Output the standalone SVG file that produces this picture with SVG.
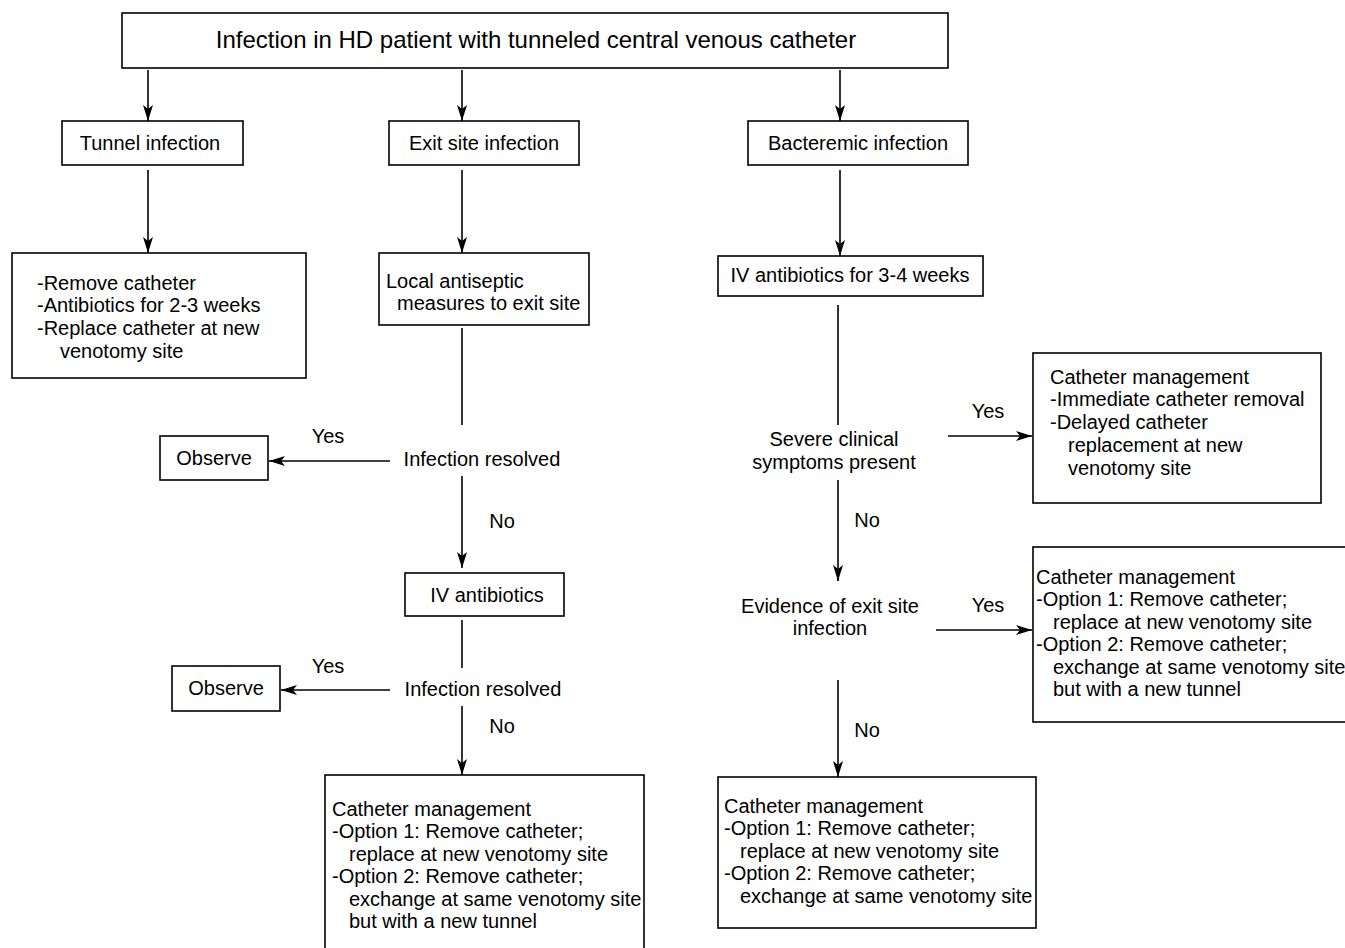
<svg xmlns="http://www.w3.org/2000/svg" width="1345" height="948" viewBox="0 0 1345 948">
<defs>
<marker id="ah" markerWidth="16" markerHeight="12" refX="16" refY="6" orient="auto" markerUnits="userSpaceOnUse">
<path d="M0,1 L16,6 L0,11 L4,6 Z" fill="#000"/>
</marker>
</defs>
<style>
.box{fill:#fff;stroke:#000;stroke-width:1.6}
.t{font-family:"Liberation Sans",Arial,sans-serif;font-size:20px;fill:#000}
.tm{text-anchor:middle}
.ttl{font-size:24px}
.ln{stroke:#000;stroke-width:1.6;fill:none}
.ar{stroke:#000;stroke-width:1.6;fill:none;marker-end:url(#ah)}
</style>
<rect width="1345" height="948" fill="#fff"/>
<g id="connectors">
<line class="ar" x1="148" y1="70" x2="148" y2="121"/>
<line class="ar" x1="462" y1="70" x2="462" y2="121"/>
<line class="ar" x1="840" y1="70" x2="840" y2="121"/>
<line class="ar" x1="148" y1="170" x2="148" y2="253"/>
<line class="ar" x1="462" y1="170" x2="462" y2="253"/>
<line class="ar" x1="840" y1="170" x2="840" y2="256"/>
<line class="ln" x1="462" y1="328" x2="462" y2="425"/>
<line class="ar" x1="390" y1="461" x2="269" y2="461"/>
<line class="ar" x1="462" y1="476" x2="462" y2="568"/>
<line class="ln" x1="462" y1="620" x2="462" y2="668"/>
<line class="ar" x1="390" y1="690" x2="281" y2="690"/>
<line class="ar" x1="462" y1="706" x2="462" y2="775"/>
<line class="ln" x1="838" y1="305" x2="838" y2="425"/>
<line class="ar" x1="948" y1="436" x2="1032" y2="436"/>
<line class="ar" x1="838" y1="480" x2="838" y2="581"/>
<line class="ar" x1="936" y1="630" x2="1032" y2="630"/>
<line class="ar" x1="838" y1="680" x2="838" y2="777"/>
<text class="t" x="328" y="443" text-anchor="middle">Yes</text>
<text class="t" x="502" y="528" text-anchor="middle">No</text>
<text class="t" x="328" y="673" text-anchor="middle">Yes</text>
<text class="t" x="502" y="733" text-anchor="middle">No</text>
<text class="t" x="988" y="418" text-anchor="middle">Yes</text>
<text class="t" x="867" y="527" text-anchor="middle">No</text>
<text class="t" x="988" y="612" text-anchor="middle">Yes</text>
<text class="t" x="867" y="737" text-anchor="middle">No</text>
</g>
<g id="root">
<rect class="box" x="122" y="13" width="826" height="55"/>
<text class="t tm ttl" x="536" y="48">Infection in HD patient with tunneled central venous catheter</text>
</g>
<g id="tunnel">
<rect class="box" x="62" y="121" width="181" height="44"/>
<text class="t tm" x="150" y="150">Tunnel infection</text>
</g>
<g id="exit">
<rect class="box" x="389" y="121" width="190" height="44"/>
<text class="t tm" x="484" y="150">Exit site infection</text>
</g>
<g id="bacteremic">
<rect class="box" x="748" y="121" width="220" height="44"/>
<text class="t tm" x="858" y="150">Bacteremic infection</text>
</g>
<g id="tunnel-mgmt">
<rect class="box" x="12" y="253" width="294" height="125"/>
<text class="t" x="37" y="290">-Remove catheter</text>
<text class="t" x="37" y="312">-Antibiotics for 2-3 weeks</text>
<text class="t" x="37" y="335">-Replace catheter at new</text>
<text class="t" x="60" y="358">venotomy site</text>
</g>
<g id="local">
<rect class="box" x="379" y="253" width="210" height="72"/>
<text class="t" x="386" y="288">Local antiseptic</text>
<text class="t" x="397" y="310">measures to exit site</text>
</g>
<g id="resolved1">
<text class="t tm" x="482" y="466">Infection resolved</text>
</g>
<g id="observe1">
<rect class="box" x="160" y="436" width="108" height="44"/>
<text class="t tm" x="214" y="465">Observe</text>
</g>
<g id="iv">
<rect class="box" x="405" y="573" width="159" height="43"/>
<text class="t tm" x="487" y="602">IV antibiotics</text>
</g>
<g id="resolved2">
<text class="t tm" x="483" y="696">Infection resolved</text>
</g>
<g id="observe2">
<rect class="box" x="172" y="666" width="108" height="45"/>
<text class="t tm" x="226" y="695">Observe</text>
</g>
<g id="exit-mgmt">
<rect class="box" x="325" y="775" width="319" height="180"/>
<text class="t" x="332" y="816">Catheter management</text>
<text class="t" x="332" y="838">-Option 1: Remove catheter;</text>
<text class="t" x="349" y="861">replace at new venotomy site</text>
<text class="t" x="332" y="883">-Option 2: Remove catheter;</text>
<text class="t" x="349" y="906">exchange at same venotomy site</text>
<text class="t" x="349" y="928">but with a new tunnel</text>
</g>
<g id="iv34">
<rect class="box" x="718" y="256" width="265" height="40"/>
<text class="t tm" x="850" y="282">IV antibiotics for 3-4 weeks</text>
</g>
<g id="severe">
<text class="t tm" x="834" y="446">Severe clinical</text>
<text class="t tm" x="834" y="469">symptoms present</text>
</g>
<g id="severe-mgmt">
<rect class="box" x="1033" y="353" width="288" height="150"/>
<text class="t" x="1050" y="384">Catheter management</text>
<text class="t" x="1050" y="406">-Immediate catheter removal</text>
<text class="t" x="1050" y="429">-Delayed catheter</text>
<text class="t" x="1068" y="452">replacement at new</text>
<text class="t" x="1068" y="475">venotomy site</text>
</g>
<g id="evidence">
<text class="t tm" x="830" y="613">Evidence of exit site</text>
<text class="t tm" x="830" y="635">infection</text>
</g>
<g id="evidence-mgmt">
<rect class="box" x="1033" y="547" width="320" height="175"/>
<text class="t" x="1036" y="584">Catheter management</text>
<text class="t" x="1036" y="606">-Option 1: Remove catheter;</text>
<text class="t" x="1053" y="629">replace at new venotomy site</text>
<text class="t" x="1036" y="651">-Option 2: Remove catheter;</text>
<text class="t" x="1053" y="674">exchange at same venotomy site</text>
<text class="t" x="1053" y="696">but with a new tunnel</text>
</g>
<g id="final-mgmt">
<rect class="box" x="718" y="777" width="318" height="151"/>
<text class="t" x="724" y="813">Catheter management</text>
<text class="t" x="724" y="835">-Option 1: Remove catheter;</text>
<text class="t" x="740" y="858">replace at new venotomy site</text>
<text class="t" x="724" y="880">-Option 2: Remove catheter;</text>
<text class="t" x="740" y="903">exchange at same venotomy site</text>
</g>
</svg>
